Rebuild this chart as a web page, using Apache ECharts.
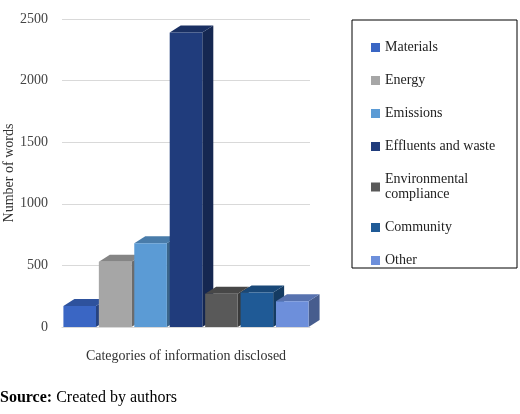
<!DOCTYPE html>
<html><head><meta charset="utf-8">
<script src="https://cdn.jsdelivr.net/npm/echarts@6/dist/echarts.min.js"></script>
<style>html,body{margin:0;background:#fff}#c{width:520px;height:414px}</style>
</head><body><div id="c"></div>
<script>
var categories = ['Materials', 'Energy', 'Emissions', 'Effluents and waste', 'Environmental\ncompliance', 'Community', 'Other'];
var values = [170, 530, 680, 2390, 270, 280, 210];
var colors = ['#3a66c4', '#a6a6a6', '#5b9bd5', '#203c7c', '#595959', '#1f5a96', '#6d8fdb'];
var yTicks = [0, 500, 1000, 1500, 2000, 2500];

function shade(hex, f) {
    var n = parseInt(hex.slice(1), 16);
    var r = Math.round(((n >> 16) & 255) * f), g = Math.round(((n >> 8) & 255) * f), b = Math.round((n & 255) * f);
    return 'rgb(' + r + ',' + g + ',' + b + ')';
}

var myChart = echarts.init(document.getElementById('c'));
var series = categories.map(function (name, i) {
    return {
        name: name,
        type: 'custom',
        color: colors[i],
        data: [[i, values[i]]],
        renderItem: function (params, api) {
            var top = api.coord([api.value(0), api.value(1)]);
            var base = api.coord([api.value(0), 0]);
            var w = api.size([1, 0])[0] * 0.92;
            var x0 = top[0] - w / 2, x1 = top[0] + w / 2, dx = 11, dy = 7;
            var c = colors[i];
            return {
                type: 'group',
                children: [
                    { type: 'polygon', shape: { points: [[x1, base[1]], [x1 + dx, base[1] - dy], [x1 + dx, top[1] - dy], [x1, top[1]]] }, style: { fill: shade(c, 0.65) } },
                    { type: 'polygon', shape: { points: [[x0, top[1]], [x0 + dx, top[1] - dy], [x1 + dx, top[1] - dy], [x1, top[1]]] }, style: { fill: shade(c, 0.8) } },
                    { type: 'rect', shape: { x: x0, y: top[1], width: w, height: base[1] - top[1] }, style: { fill: c } }
                ]
            };
        }
    };
});

var option = {
    animation: false,
    textStyle: { fontFamily: 'Liberation Serif' },
    grid: { left: 62, right: 210, top: 19, bottom: 87 },
    xAxis: {
        type: 'category',
        data: categories,
        axisLabel: { show: false },
        axisTick: { show: false },
        axisLine: { lineStyle: { color: '#d9d9d9' } },
        name: 'Categories of information disclosed',
        nameLocation: 'middle',
        nameGap: 22,
        nameTextStyle: { fontSize: 14, color: '#333', fontFamily: 'Liberation Serif' }
    },
    yAxis: {
        type: 'value',
        min: yTicks[0], max: yTicks[yTicks.length - 1], interval: 500,
        axisLabel: { fontSize: 14, color: '#444', fontFamily: 'Liberation Serif', margin: 14, formatter: function (v) { return String(v); } },
        splitLine: { lineStyle: { color: '#d9d9d9' } },
        name: 'Number of words',
        nameLocation: 'middle',
        nameGap: 46,
        nameTextStyle: { fontSize: 14, color: '#333', fontFamily: 'Liberation Serif' }
    },
    legend: {
        orient: 'vertical',
        left: 366, top: 35,
        itemWidth: 9, itemHeight: 9, itemGap: 18,
        icon: 'rect',
        textStyle: { fontSize: 14, color: '#222', fontFamily: 'Liberation Serif', lineHeight: 15 },
        data: categories
    },
    graphic: [
        { type: 'rect', shape: { x: 352, y: 20, width: 165, height: 248 }, style: { fill: 'none', stroke: '#000', lineWidth: 1 } },
        { type: 'text', left: 0, top: 390, style: { rich: { b: { fontWeight: 'bold', fontSize: 16, fontFamily: 'Liberation Serif' }, n: { fontSize: 16, fontFamily: 'Liberation Serif' } }, text: '{b|Source:}{n| Created by authors}' } }
    ],
    series: series
};
myChart.setOption(option);
</script></body></html>
